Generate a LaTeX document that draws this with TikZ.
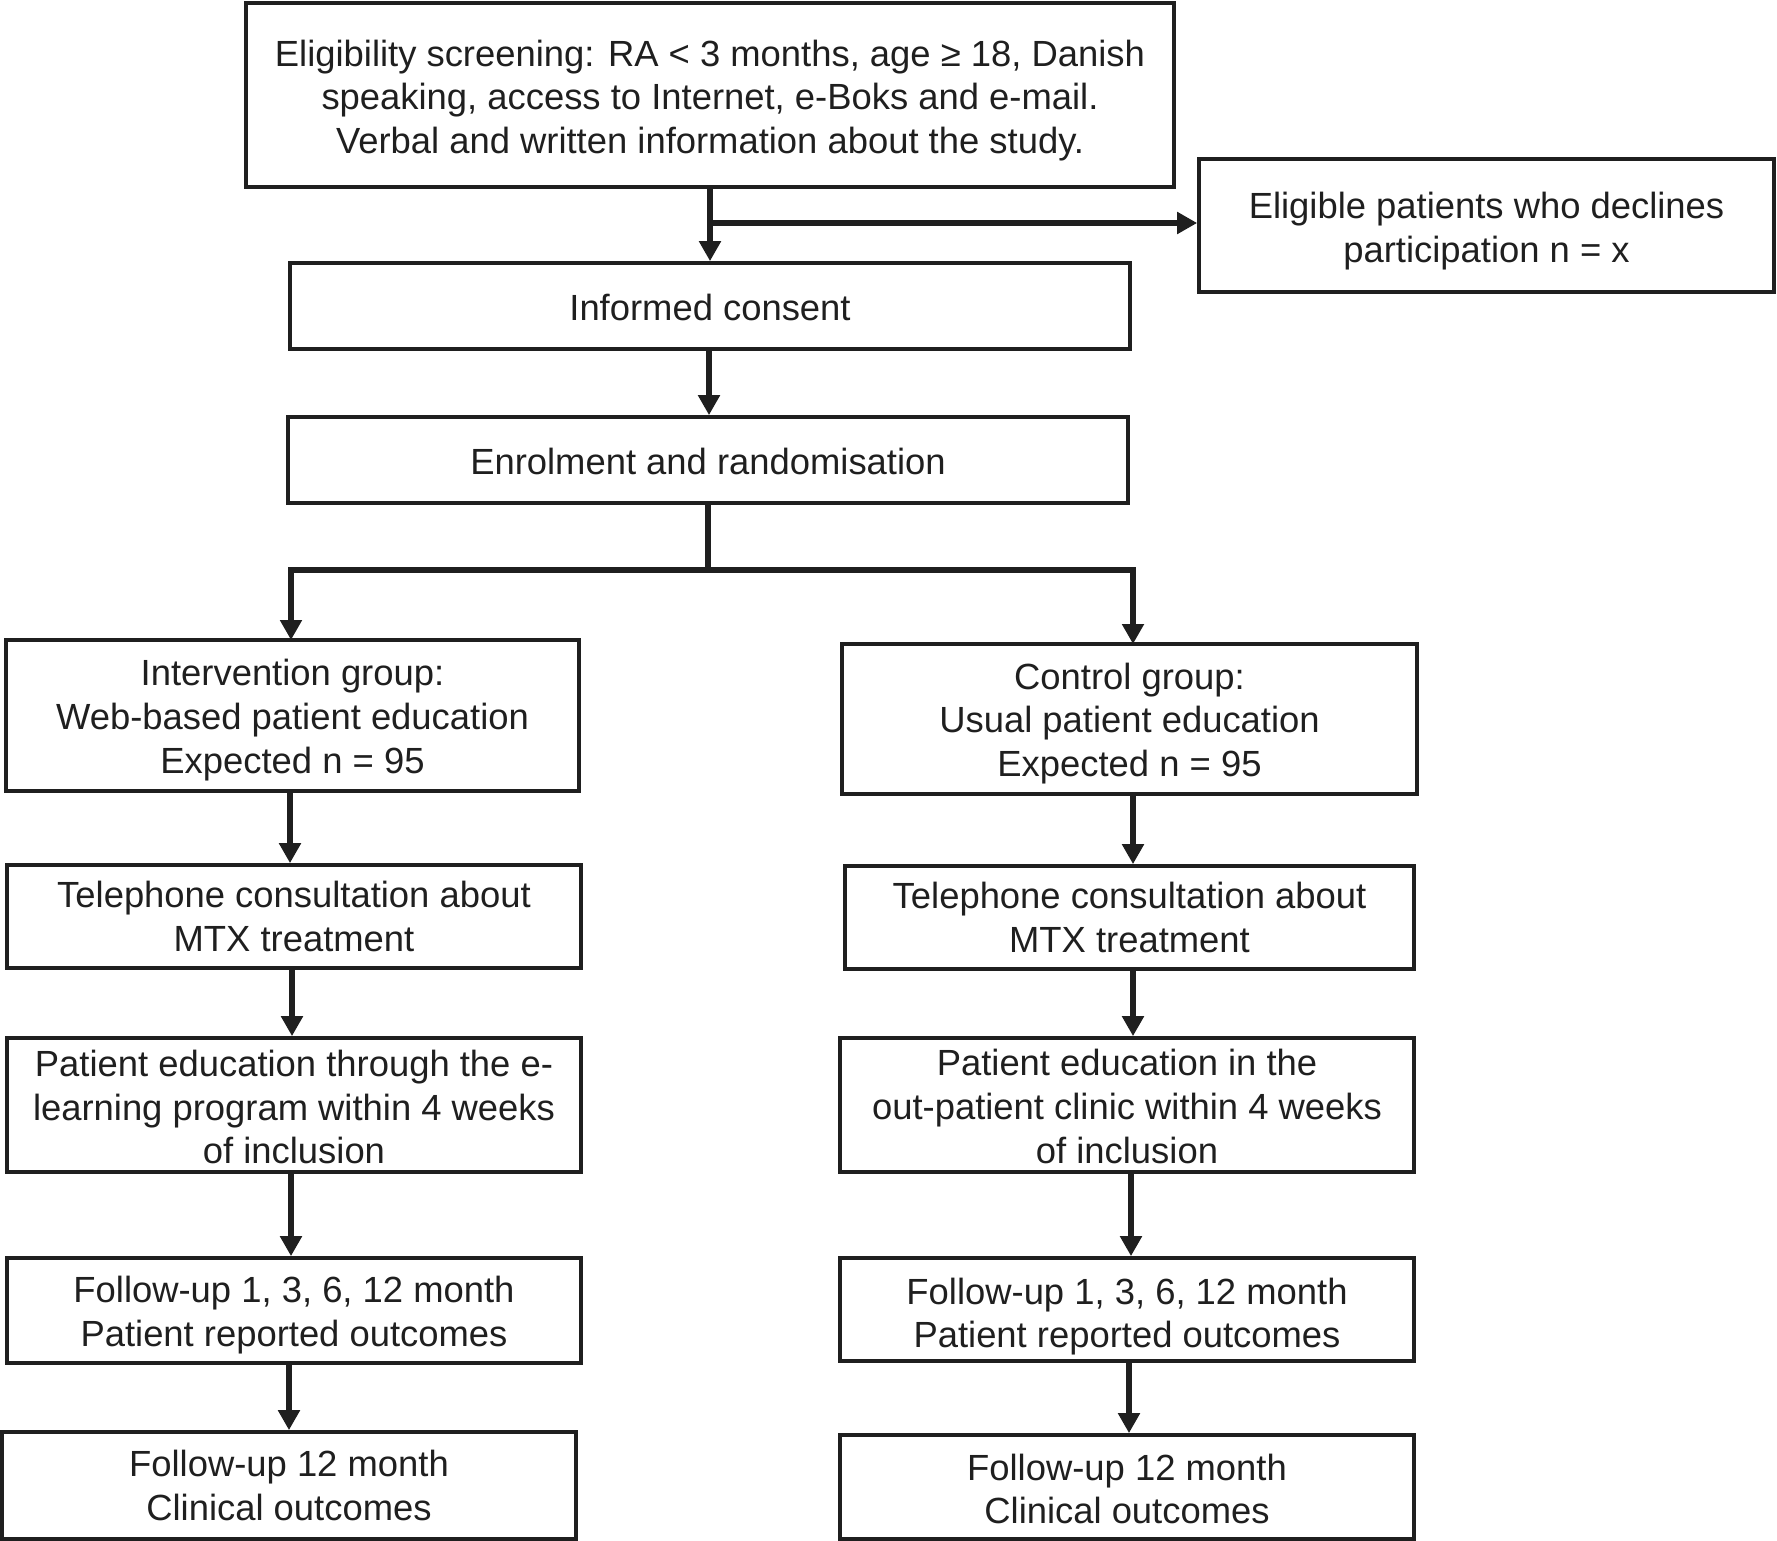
\documentclass[tikz,border=0pt]{standalone}
\usepackage{fontspec}
\setmainfont{Liberation Sans}
\usetikzlibrary{arrows.meta}
\begin{document}
\begin{tikzpicture}[x=1pt,y=-1pt,
  box/.style={draw=black!88, line width=3.7pt, inner sep=0pt},
  txt/.style={inner sep=0pt, align=center,
    font=\fontsize{36.4}{43.6}\selectfont, text=black!88},
  arr/.style={draw=black!88, line width=5.5pt, -{Triangle[length=20pt,width=21pt]}},
  ln/.style={draw=black!88, line width=5.5pt}]
\useasboundingbox (0,0) rectangle (1777,1541);
\node[box, minimum width=928pt, minimum height=184pt] (top) at (710,95) {};
\node[txt] (top-t) at ([yshift=-5.5pt]top.center)
  {Eligibility screening: RA < 3 months, age ≥ 18, Danish\\ speaking, access to Internet, e-Boks and e-mail.\\ Verbal and written information about the study.};
\node[box, minimum width=575pt, minimum height=133pt] (decl) at (1486.5,225.5) {};
\node[txt] (decl-t) at ([yshift=-5.5pt]decl.center)
  {Eligible patients who declines\\ participation n = x};
\node[box, minimum width=840pt, minimum height=86pt] (cons) at (710,306) {};
\node[txt] (cons-t) at ([yshift=-1pt]cons.center) {Informed consent};
\node[box, minimum width=840pt, minimum height=86pt] (enrol) at (708,460) {};
\node[txt] (enrol-t) at ([yshift=-1pt]enrol.center) {Enrolment and randomisation};
\node[box, minimum width=573pt, minimum height=151pt] (intv) at (292.5,715.5) {};
\node[txt] (intv-t) at ([yshift=-4.5pt]intv.center)
  {Intervention group:\\ Web-based patient education\\ Expected n = 95};
\node[box, minimum width=575pt, minimum height=150pt] (ctrl) at (1129.5,719) {};
\node[txt] (ctrl-t) at ([yshift=-4.5pt]ctrl.center)
  {Control group:\\ Usual patient education\\ Expected n = 95};
\node[box, minimum width=574pt, minimum height=103pt] (telL) at (294,916.5) {};
\node[txt] (telL-t) at (telL.center)
  {Telephone consultation about\\ MTX treatment};
\node[box, minimum width=569pt, minimum height=103pt] (telR) at (1129.5,917.5) {};
\node[txt] (telR-t) at (telR.center)
  {Telephone consultation about\\ MTX treatment};
\node[box, minimum width=574pt, minimum height=134pt] (edL) at (294,1105) {};
\node[txt] (edL-t) at ([yshift=-2pt]edL.center)
  {Patient education through the e-\\ learning program within 4 weeks\\ of inclusion};
\node[box, minimum width=574pt, minimum height=134pt] (edR) at (1127,1105) {};
\node[txt] (edR-t) at ([yshift=-1.5pt]edR.center)
  {Patient education in the\\ out-patient clinic within 4 weeks\\ of inclusion};
\node[box, minimum width=574pt, minimum height=105pt] (fuL) at (294,1310.5) {};
\node[txt] (fuL-t) at ([yshift=-4.5pt]fuL.center)
  {Follow-up 1, 3, 6, 12 month\\ Patient reported outcomes};
\node[box, minimum width=574pt, minimum height=103pt] (fuR) at (1127,1309.5) {};
\node[txt] (fuR-t) at ([yshift=-7pt]fuR.center)
  {Follow-up 1, 3, 6, 12 month\\ Patient reported outcomes};
\node[box, minimum width=574pt, minimum height=107pt] (f12L) at (289,1485.5) {};
\node[txt] (f12L-t) at (f12L.center)
  {Follow-up 12 month\\ Clinical outcomes};
\node[box, minimum width=574pt, minimum height=104pt] (f12R) at (1127,1487) {};
\node[txt] (f12R-t) at ([yshift=-2pt]f12R.center)
  {Follow-up 12 month\\ Clinical outcomes};
\coordinate (tsplit) at (710,223);
\coordinate (split) at (708,570);
\draw[arr] (top.south) -- (cons.north);
\draw[arr] (tsplit) -- (decl.west |- tsplit);
\draw[arr] (cons.south -| 709,0) -- (enrol.north -| 709,0);
\draw[ln] (enrol.south) -- (split);
\draw[arr] (split) -| (291,640);
\draw[arr] (split) -| (1133,644);
\draw[arr] (intv.south -| 290,0) -- (telL.north -| 290,0);
\draw[arr] (telL.south -| 292,0) -- (edL.north -| 292,0);
\draw[arr] (edL.south -| 291,0) -- (fuL.north -| 291,0);
\draw[arr] (fuL.south -| 289,0) -- (f12L.north -| 289,0);
\draw[arr] (ctrl.south -| 1133,0) -- (telR.north -| 1133,0);
\draw[arr] (telR.south -| 1133,0) -- (edR.north -| 1133,0);
\draw[arr] (edR.south -| 1131,0) -- (fuR.north -| 1131,0);
\draw[arr] (fuR.south -| 1129,0) -- (f12R.north -| 1129,0);
\end{tikzpicture}
\end{document}
